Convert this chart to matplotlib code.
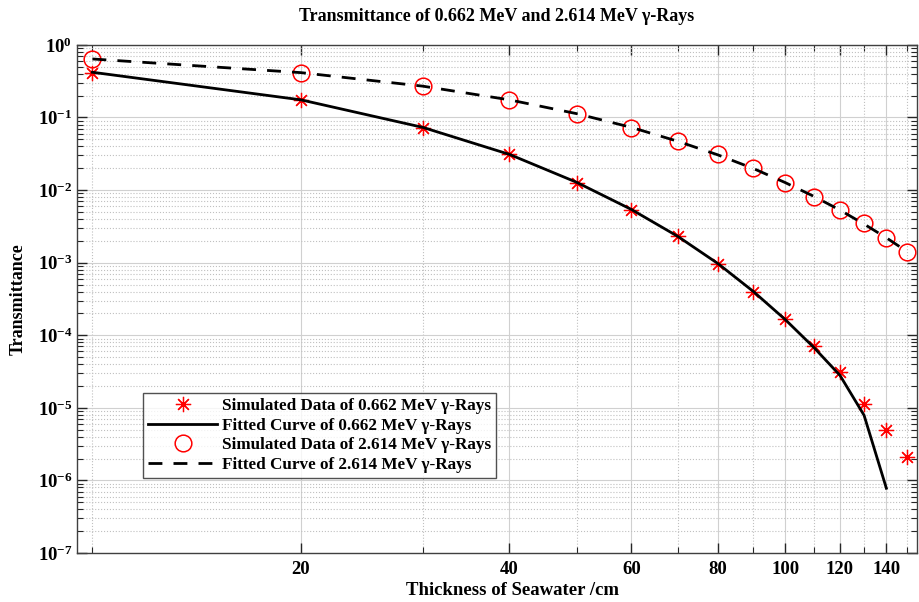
import matplotlib
matplotlib.use("Agg")
import matplotlib.pyplot as plt
from matplotlib.ticker import FixedLocator, FixedFormatter, NullFormatter, LogLocator, LogFormatterSciNotation

plt.rcParams['font.family'] = ['Liberation Serif', 'DejaVu Serif']
plt.rcParams['font.weight'] = 'bold'
plt.rcParams['mathtext.fontset'] = 'custom'
plt.rcParams['mathtext.rm'] = 'Liberation Serif:bold'
plt.rcParams['mathtext.it'] = 'Liberation Serif:italic:bold'
plt.rcParams['mathtext.bf'] = 'Liberation Serif:bold'

# thickness of seawater (cm)
thickness = [10, 20, 30, 40, 50, 60, 70, 80, 90, 100, 110, 120, 130, 140, 150]

# simulated transmittance, 0.662 MeV
sim_662 = [0.41, 0.175, 0.072, 0.0317, 0.0126, 0.0054, 0.0023, 0.00097,
           0.0004, 1.7e-4, 7.0e-5, 3.1e-5, 1.12e-5, 4.9e-6, 2.1e-6]
# fitted curve, 0.662 MeV (ends at 140 cm)
fit_662_x = [10, 20, 30, 40, 50, 60, 70, 80, 90, 100, 110, 120, 130, 140]
fit_662 = [0.42, 0.175, 0.073, 0.031, 0.0128, 0.0054, 0.0023, 0.00097,
           0.0004, 1.65e-4, 6.8e-5, 2.8e-5, 7.9e-6, 7.8e-7]

# simulated transmittance, 2.614 MeV
sim_2614 = [0.64, 0.41, 0.27, 0.175, 0.112, 0.072, 0.047, 0.031,
            0.020, 0.0126, 0.0081, 0.0054, 0.0035, 0.0022, 0.0014]
fit_2614 = [0.64, 0.415, 0.27, 0.175, 0.113, 0.073, 0.047, 0.0305,
            0.0198, 0.0127, 0.0082, 0.0053, 0.0034, 0.0022, 0.00142]

xticks = [20, 40, 60, 80, 100, 120, 140]
xminor = [10, 30, 50, 70, 90, 110, 130, 150]

fig = plt.figure(figsize=(9.19, 6.02), dpi=100)
ax = fig.add_axes([0.0838, 0.0814, 0.914, 0.844])

ax.plot(thickness, sim_662, linestyle='none', marker=(8, 2, 0), markersize=11,
        markeredgewidth=0.9, color='red', label='Simulated Data of 0.662 MeV γ-Rays')
ax.plot(fit_662_x, fit_662, '-', color='black', linewidth=2,
        label='Fitted Curve of 0.662 MeV γ-Rays')
ax.plot(thickness, sim_2614, linestyle='none', marker='o', markersize=12,
        markerfacecolor='none', markeredgecolor='red', markeredgewidth=1.1,
        label='Simulated Data of 2.614 MeV γ-Rays')
ax.plot(thickness, fit_2614, '--', color='black', linewidth=2, dashes=(5, 4),
        label='Fitted Curve of 2.614 MeV γ-Rays')

ax.set_xscale('log')
ax.set_yscale('log')
ax.set_xlim(9.5, 155)
ax.set_ylim(1e-7, 1)

ax.xaxis.set_major_locator(FixedLocator(xticks))
ax.xaxis.set_major_formatter(FixedFormatter([str(t) for t in xticks]))
ax.xaxis.set_minor_locator(FixedLocator(xminor))
ax.xaxis.set_minor_formatter(NullFormatter())
ax.yaxis.set_major_locator(LogLocator(base=10, numticks=10))
ax.yaxis.set_major_formatter(LogFormatterSciNotation())
ax.yaxis.set_minor_locator(LogLocator(base=10, subs=range(2, 10), numticks=20))
ax.yaxis.set_minor_formatter(NullFormatter())

ax.tick_params(which='both', direction='in', top=True, right=True,
               color='#262626', labelsize=13.5)
ax.tick_params(axis='x', pad=6)
ax.tick_params(which='major', length=7, width=1)
ax.tick_params(which='minor', length=4, width=0.8)
for s in ax.spines.values():
    s.set_color('#404040')
    s.set_linewidth(1)

ax.grid(which='major', color='#d0d0d0', linestyle='-', linewidth=0.8)
ax.grid(which='minor', color='#c0c0c0', linestyle=':', linewidth=0.8)
ax.set_axisbelow(True)

ax.set_title('Transmittance of 0.662 MeV and 2.614 MeV γ-Rays',
             fontsize=13, fontweight='bold', pad=17)
ax.set_xlabel('Thickness of Seawater /cm', fontsize=13.5, fontweight='bold')
ax.xaxis.set_label_coords(0.518, -0.058)
ax.set_ylabel('Transmittance', fontsize=13, fontweight='bold', labelpad=8)

leg = ax.legend(loc='lower left', bbox_to_anchor=(0.079, 0.147), fontsize=12.3,
                frameon=True, fancybox=False, edgecolor='#262626',
                borderpad=0.3, labelspacing=0.22, handlelength=4,
                handletextpad=0.3, borderaxespad=0)
leg.get_frame().set_linewidth(1)

fig.savefig('out.png', dpi=100)
